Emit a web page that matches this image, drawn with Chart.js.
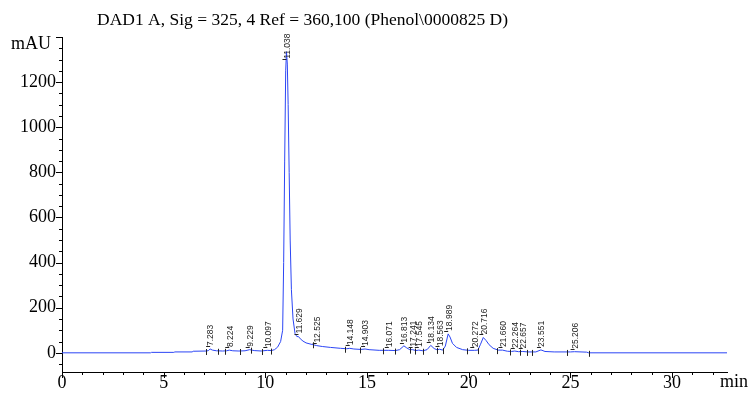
<!DOCTYPE html>
<html>
<head>
<meta charset="utf-8">
<script src="https://cdn.jsdelivr.net/npm/chart.js@4.4.1/dist/chart.umd.min.js"></script>
<style>
  body { margin: 0; background: #fff; }
  canvas { display: block; }
</style>
</head>
<body>
<canvas id="myChart" width="749" height="395"></canvas>
<script>
const titleText = "DAD1 A, Sig = 325, 4 Ref = 360,100 (Phenol\\0000825 D)";

// signal (min, mAU)
const times = [0, 4.35, 4.4, 5.5, 5.55, 6.4, 6.45, 7.1, 7.2, 7.283, 7.4, 7.6, 7.9, 8.1, 8.224, 8.4, 8.7, 9.0, 9.229, 9.45,
  9.8, 10.097, 10.3, 10.45, 10.6, 10.75, 10.85, 10.9, 10.95, 11.0, 11.038, 11.08, 11.12, 11.17, 11.22, 11.28, 11.36, 11.46, 11.55, 11.629,
  11.72, 11.85, 12.0, 12.25, 12.525, 12.8, 13.2, 13.7, 14.0, 14.148, 14.35, 14.7, 14.903, 15.1, 15.6, 16.071, 16.4, 16.6, 16.813, 16.95,
  17.1, 17.241, 17.4, 17.545, 17.75, 17.95, 18.134, 18.3, 18.45, 18.563, 18.72, 18.85, 18.989, 19.08, 19.2, 19.4, 19.7, 20.0, 20.272, 20.45,
  20.58, 20.716, 20.85, 21.0, 21.2, 21.45, 21.66, 21.9, 22.1, 22.264, 22.45, 22.657, 22.9, 23.3, 23.551, 23.75, 24.2, 25.0, 25.206, 25.8,
  25.9, 32.7];
const signal = [0, 0, 2, 2, 4, 4, 7, 8, 10, 17, 12, 9, 8, 9, 12, 9, 8, 9, 14, 10,
  8, 11, 10, 14, 25, 50, 100, 400, 850, 1250, 1335, 1280, 1100, 800, 500, 280, 150, 85, 72, 72,
  62, 52, 44, 38, 32, 28, 24, 20, 18, 20, 17, 15, 17, 14, 11, 11, 10, 14, 31, 22,
  14, 14, 10, 12, 9, 14, 33, 19, 13, 16, 12, 30, 84, 70, 42, 24, 14, 11, 11, 12,
  38, 68, 55, 36, 20, 12, 12, 7, 6, 8, 5, 6, 4, 4, 13, 6, 4, 4, 5, 3,
  0, 0];

// peak table: retention times and heights
const peakTimes = [7.283, 8.224, 9.229, 10.097, 11.038, 11.629, 12.525, 14.148, 14.903, 16.071, 16.813, 17.241,
  17.545, 18.134, 18.563, 18.989, 20.272, 20.716, 21.660, 22.264, 22.657, 23.551, 25.206];
const peakHeights = [17, 12, 14, 11, 1290, 72, 32, 20, 17, 11, 31, 14,
  12, 33, 16, 84, 11, 68, 12, 8, 6, 13, 5];
const peakLabels = ["7.283", "8.224", "9.229", "10.097", "11.038", "11.629", "12.525", "14.148", "14.903", "16.071", "16.813", "17.241",
  "17.545", "18.134", "18.563", "18.989", "20.272", "20.716", "21.660", "22.264", "22.657", "23.551", "25.206"];

// integration event marks on the baseline
const eventTimes = [7.1, 7.69, 8.02, 8.76, 9.3, 9.82, 10.3, 12.35, 13.9, 14.66, 15.8, 16.38, 17.12, 17.36, 17.77,
  18.43, 18.75, 19.9, 20.47, 21.38, 22.04, 22.53, 22.86, 23.1, 24.83, 25.9];

const xTicks = [0, 5, 10, 15, 20, 25, 30];
const yTicks = [0, 200, 400, 600, 800, 1000, 1200];

const serif = "'Liberation Serif', 'Times New Roman', serif";

// value of the nearest recorded point (for placing event marks on the line)
const nearestValue = (t) => {
  let best = 0;
  for (let i = 1; i < times.length; i++) {
    if (Math.abs(times[i] - t) < Math.abs(times[best] - t)) best = i;
  }
  return signal[best];
};

const decorPlugin = {
  id: "decor",
  afterDraw(chart) {
    const ctx = chart.ctx;
    const xs = chart.scales.x;
    const ys = chart.scales.y;
    const area = chart.chartArea;
    ctx.save();

    // axis tick marks
    ctx.strokeStyle = "#000";
    ctx.lineWidth = 1;
    ctx.beginPath();
    for (let v = 0; v <= xs.max; v += 1) {
      const px = Math.round(xs.getPixelForValue(v)) + 0.5;
      const len = v % 5 === 0 ? 6 : 3;
      ctx.moveTo(px, area.bottom);
      ctx.lineTo(px, area.bottom + len);
    }
    for (let v = -50; v <= ys.max; v += 50) {
      const py = Math.round(ys.getPixelForValue(v)) + 0.5;
      const len = v % 200 === 0 ? 6 : 3;
      ctx.moveTo(area.left, py);
      ctx.lineTo(area.left - len, py);
    }
    ctx.stroke();

    // integration event marks
    ctx.strokeStyle = "#222";
    ctx.beginPath();
    eventTimes.forEach((t) => {
      const px = Math.round(xs.getPixelForValue(t)) + 0.5;
      const py = ys.getPixelForValue(nearestValue(t));
      ctx.moveTo(px, py - 2);
      ctx.lineTo(px, py + 4);
    });
    ctx.stroke();

    // peak labels
    ctx.fillStyle = "#222";
    ctx.font = "8.5px 'Liberation Sans', Arial, sans-serif";
    ctx.textBaseline = "middle";
    ctx.textAlign = "left";
    peakTimes.forEach((t, i) => {
      const px = xs.getPixelForValue(t);
      const py = ys.getPixelForValue(peakHeights[i]) - 3;
      ctx.beginPath();
      ctx.moveTo(px - 4, Math.round(py) + 0.5);
      ctx.lineTo(px, Math.round(py) + 0.5);
      ctx.stroke();
      ctx.save();
      ctx.translate(px + 1, py);
      ctx.rotate(-Math.PI / 2);
      ctx.fillText(peakLabels[i], 0, 0);
      ctx.restore();
    });

    // title and axis units
    ctx.fillStyle = "#000";
    ctx.font = "17.5px " + serif;
    ctx.textBaseline = "middle";
    ctx.textAlign = "left";
    ctx.fillText(titleText, 97, 20);
    ctx.font = "18px " + serif;
    ctx.textAlign = "right";
    ctx.fillText("mAU", area.left - 11, 44);
    ctx.textAlign = "right";
    ctx.fillText("min", 748, area.bottom + 10);
    ctx.restore();
  },
};

new Chart(document.getElementById("myChart"), {
  type: "line",
  data: {
    datasets: [
      {
        data: times.map((t, i) => ({ x: t, y: signal[i] })),
        borderColor: "#2b45f5",
        borderWidth: 1,
        pointRadius: 0,
        tension: 0,
        fill: false,
      },
    ],
  },
  options: {
    responsive: false,
    animation: false,
    devicePixelRatio: 1,
    layout: { padding: { left: 0, right: 22, top: 37, bottom: 0 } },
    plugins: { legend: { display: false }, tooltip: { enabled: false }, title: { display: false } },
    scales: {
      x: {
        type: "linear",
        min: 0,
        max: 32.7,
        grid: { display: false, tickLength: 0 },
        border: { display: true, color: "#000", width: 1 },
        afterFit: (scale) => { scale.height = 23; },
        ticks: {
          stepSize: 1,
          autoSkip: false,
          maxRotation: 0,
          padding: 0,
          color: "#000",
          font: { family: serif, size: 18 },
          callback: (v) => (xTicks.includes(v) ? String(v) : ""),
        },
      },
      y: {
        min: -85,
        max: 1400,
        grid: { display: false, tickLength: 0 },
        border: { display: true, color: "#000", width: 1 },
        afterFit: (scale) => { scale.width = 62; },
        ticks: {
          stepSize: 50,
          autoSkip: false,
          padding: 6,
          color: "#000",
          font: { family: serif, size: 18 },
          callback: (v) => (yTicks.includes(v) ? String(v) : ""),
        },
      },
    },
  },
  plugins: [decorPlugin],
});
</script>
</body>
</html>
